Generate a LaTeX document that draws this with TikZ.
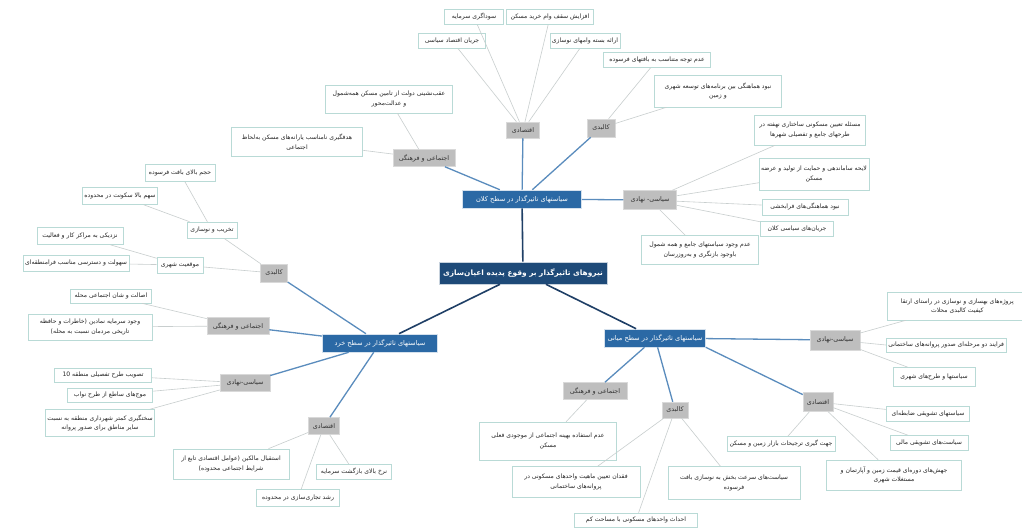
\documentclass[tikz,border=0pt]{standalone}
\usepackage{fontspec}
\TeXXeTstate=1
\newfontfamily\fafont[Script=Arabic]{DejaVu Sans}
\newcommand\fa[1]{\beginR #1\endR}
\definecolor{leafborder}{HTML}{B9DAD6}
\definecolor{leafline}{HTML}{C8CECE}
\definecolor{catfill}{HTML}{BEBEBE}
\definecolor{cattext}{HTML}{333333}
\definecolor{lvlfill}{HTML}{2B69A5}
\definecolor{rootfill}{HTML}{1E4A78}
\definecolor{lvlline}{HTML}{5A8CBD}
\definecolor{rootline}{HTML}{1F3F66}
\tikzset{
  leaf/.style={draw=leafborder, line width=0.6pt, fill=white, text=black!85,
    font=\fafont\fontsize{6.1}{9.5}\selectfont, align=center, inner xsep=2pt, inner ysep=1.5pt},
  cat/.style={draw=white!85!black, line width=0.5pt, fill=catfill, text=cattext,
    font=\fafont\fontsize{6.4}{8}\selectfont, inner xsep=3pt, inner ysep=2pt},
  lvl/.style={draw=white!80!lvlfill, line width=0.6pt, fill=lvlfill, text=white,
    font=\fafont\fontsize{6.6}{8}\selectfont, inner xsep=3pt, inner ysep=2pt},
  rootbox/.style={draw=white!75!rootfill, line width=0.6pt, fill=rootfill, text=white,
    font=\fafont\bfseries\fontsize{7.4}{9}\selectfont, inner xsep=4pt, inner ysep=3pt},
  lline/.style={draw=leafline, line width=0.6pt},
  bline/.style={draw=lvlline, line width=1.3pt},
  rline/.style={draw=rootline, line width=1.6pt}
}
\begin{document}
\begin{tikzpicture}[x=1pt,y=-1pt]
\useasboundingbox (0,0) rectangle (1022,531);
\clip (0,0) rectangle (1022,531);
\fill[white] (0,0) rectangle (1022,531);

% root and level 1
\node[rootbox, minimum width=160, minimum height=22] (R) at (523,273) {\fa{نیروهای تاثیرگذار بر وقوع پدیده اعیان‌سازی}};
\node[lvl, minimum width=119, minimum height=18] (M) at (522,199) {\fa{سیاستهای تاثیرگذار در سطح کلان}};
\node[lvl, minimum width=115, minimum height=18] (S) at (380,343) {\fa{سیاستهای تاثیرگذار در سطح خرد}};
\node[lvl, minimum width=101, minimum height=18] (D) at (655,338) {\fa{سیاستهای تاثیرگذار در سطح میانی}};

% macro categories
\node[cat, minimum width=33, minimum height=16] (Me) at (523,130) {\fa{اقتصادی}};
\node[cat, minimum width=28, minimum height=18] (Mk) at (601,128) {\fa{کالبدی}};
\node[cat, minimum width=62, minimum height=17] (Ms) at (424,158) {\fa{اجتماعی و فرهنگی}};
\node[cat, minimum width=53, minimum height=19] (Mp) at (650,200) {\fa{سیاسی- نهادی}};

% macro leaves
\node[leaf, minimum width=59, minimum height=15] (me1) at (474,17) {\fa{سوداگری سرمایه}};
\node[leaf, minimum width=87, minimum height=15] (me2) at (550,17) {\fa{افزایش سقف وام خرید مسکن}};
\node[leaf, minimum width=67, minimum height=15] (me3) at (452,41) {\fa{جریان اقتصاد سیاسی}};
\node[leaf, minimum width=69, minimum height=15] (me4) at (585,41) {\fa{ارائه بسته وامهای نوسازی}};
\node[leaf, minimum width=107, minimum height=15] (mk1) at (657,60) {\fa{عدم توجه متناسب به بافتهای فرسوده}};
\node[leaf, minimum width=127, minimum height=32] (mk2) at (718,91) {\fa{نبود هماهنگی بین برنامه‌های توسعه شهری}\\\fa{و زمین}};
\node[leaf, minimum width=127, minimum height=28] (ms1) at (389,99) {\fa{عقب‌نشینی دولت از تامین مسکن همه‌شمول}\\\fa{و عدالت‌محور}};
\node[leaf, minimum width=131, minimum height=29] (ms2) at (297,142) {\fa{هدفگیری نامناسب یارانه‌های مسکن به‌لحاظ}\\\fa{اجتماعی}};
\node[leaf, minimum width=111, minimum height=30] (mp1) at (810,130) {\fa{مسئله تعیین مسکونی ساختاری نهفته در}\\\fa{طرحهای جامع و تفصیلی شهرها}};
\node[leaf, minimum width=104, minimum height=32] (mp2) at (814,174) {\fa{لایحه ساماندهی و حمایت از تولید و عرضه}\\\fa{مسکن}};
\node[leaf, minimum width=86, minimum height=16] (mp3) at (805,207) {\fa{نبود هماهنگی‌های فرابخشی}};
\node[leaf, minimum width=73, minimum height=15] (mp4) at (797,229) {\fa{جریان‌های سیاسی کلان}};
\node[leaf, minimum width=117, minimum height=29] (mp5) at (700,250) {\fa{عدم وجود سیاستهای جامع و همه شمول}\\\fa{باوجود بازنگری و به‌روزرسان}};

% micro categories
\node[cat, minimum width=27, minimum height=18] (Sk) at (274,273) {\fa{کالبدی}};
\node[cat, minimum width=62, minimum height=17] (Ss) at (238,326) {\fa{اجتماعی و فرهنگی}};
\node[cat, minimum width=50, minimum height=17] (Sp) at (245,383) {\fa{سیاسی-نهادی}};
\node[cat, minimum width=31, minimum height=17] (Se) at (324,426) {\fa{اقتصادی}};

% micro leaves
\node[leaf, minimum width=50, minimum height=16] (sk1) at (212,230) {\fa{تخریب و نوسازی}};
\node[leaf, minimum width=46, minimum height=16] (sk2) at (180,265) {\fa{موقعیت شهری}};
\node[leaf, minimum width=70, minimum height=17] (sk11) at (180,173) {\fa{حجم بالای بافت فرسوده}};
\node[leaf, minimum width=74, minimum height=17] (sk12) at (120,196) {\fa{سهم بالا سکونت در محدوده}};
\node[leaf, minimum width=86, minimum height=17] (sk21) at (80,236) {\fa{نزدیکی به مراکز کار و فعالیت}};
\node[leaf, minimum width=90, minimum height=16] (sk22) at (76,263) {\fa{سهولت و دسترسی مناسب فرامنطقه‌ای}};
\node[leaf, minimum width=81, minimum height=14] (ss1) at (111,296) {\fa{اصالت و شان اجتماعی محله}};
\node[leaf, minimum width=124, minimum height=26] (ss2) at (90,327) {\fa{وجود سرمایه نمادین (خاطرات و حافظه}\\\fa{تاریخی مردمان نسبت به محله)}};
\node[leaf, minimum width=97, minimum height=14] (sp1) at (103,375) {\fa{تصویب طرح تفصیلی منطقه \beginL 10\endL{}}};
\node[leaf, minimum width=85, minimum height=14] (sp2) at (110,395) {\fa{موج‌های ساطع از طرح نواب}};
\node[leaf, minimum width=105, minimum height=27] (sp3) at (100,423) {\fa{سختگیری کمتر شهرداری منطقه به نسبت}\\\fa{سایر مناطق برای صدور پروانه}};
\node[leaf, minimum width=116, minimum height=30] (se1) at (231,464) {\fa{استقبال مالکین (عوامل اقتصادی تابع از}\\\fa{شرایط اجتماعی محدوده)}};
\node[leaf, minimum width=75, minimum height=15] (se2) at (354,472) {\fa{نرخ بالای بازگشت سرمایه}};
\node[leaf, minimum width=83, minimum height=17] (se3) at (298,498) {\fa{رشد تجاری‌سازی در محدوده}};

% middle categories
\node[cat, minimum width=50, minimum height=20] (Dp) at (835,340) {\fa{سیاسی-نهادی}};
\node[cat, minimum width=30, minimum height=19] (De) at (818,402) {\fa{اقتصادی}};
\node[cat, minimum width=26, minimum height=16] (Dk) at (675,410) {\fa{کالبدی}};
\node[cat, minimum width=64, minimum height=17] (Ds) at (595,391) {\fa{اجتماعی و فرهنگی}};

% middle leaves
\node[leaf, anchor=west, minimum width=140, minimum height=28] (dp1) at (887,306) {\fa{پروژه‌های بهسازی و نوسازی در راستای ارتقا}\\\fa{کیفیت کالبدی محلات}};
\node[leaf, anchor=west, minimum height=14] (dp2) at (886,345) {\fa{فرایند دو مرحله‌ای صدور پروانه‌های ساختمانی}};
\node[leaf, minimum width=82, minimum height=19] (dp3) at (934,377) {\fa{سیاستها و طرح‌های شهری}};
\node[leaf, minimum width=83, minimum height=15] (de1) at (928,414) {\fa{سیاستهای تشویقی ضابطه‌ای}};
\node[leaf, minimum width=78, minimum height=15] (de2) at (929,443) {\fa{سیاست‌های تشویقی مالی}};
\node[leaf, minimum width=135, minimum height=30] (de3) at (894,475) {\fa{جهش‌های دوره‌ای قیمت زمین و آپارتمان و}\\\fa{مستغلات شهری}};
\node[leaf, minimum width=108, minimum height=15] (de4) at (781,444) {\fa{جهت گیری ترجیحات بازار زمین و مسکن}};
\node[leaf, minimum width=132, minimum height=33] (dk1) at (734,483) {\fa{سیاست‌های سرعت بخش به نوسازی بافت}\\\fa{فرسوده}};
\node[leaf, minimum width=128, minimum height=31] (dk2) at (576,482) {\fa{فقدان تعیین ماهیت واحدهای مسکونی در}\\\fa{پروانه‌های ساختمانی}};
\node[leaf, minimum width=123, minimum height=14] (dk3) at (636,520) {\fa{احداث واحدهای مسکونی با مساحت کم}};
\node[leaf, minimum width=137, minimum height=38] (ds1) at (548,441) {\fa{عدم استفاده بهینه اجتماعی از موجودی فعلی}\\\fa{مسکن}};

% connectors: root
\draw[rline] (R) -- (M);
\draw[rline] (R) -- (S);
\draw[rline] (R) -- (D);
% level 1 to categories
\foreach \c in {Me,Mk,Ms,Mp} \draw[bline] (M) -- (\c);
\foreach \c in {Sk,Ss,Sp,Se} \draw[bline] (S) -- (\c);
\foreach \c in {Dp,Dk,Ds} \draw[bline] (D) -- (\c);
\draw[bline] (D.south east) -- (De);
% leaves
\foreach \a/\b in {Me/me1,Me/me2,Me/me3,Me/me4,Mk/mk1,Mk/mk2,Ms/ms1,Ms/ms2,
  Mp/mp1,Mp/mp2,Mp/mp3,Mp/mp4,Mp/mp5,
  Sk/sk1,Sk/sk2,sk1/sk11,sk1/sk12,sk2/sk21,sk2/sk22,Ss/ss1,Ss/ss2,
  Sp/sp1,Sp/sp2,Sp/sp3,Se/se1,Se/se2,Se/se3,
  Dp/dp1,De/de1,De/de2,De/de3,De/de4,Dk/dk1,Dk/dk2,Dk/dk3,Ds/ds1}
  \draw[lline] (\a) -- (\b);
\draw[lline] (Dp) -- (dp2.west);
\draw[lline] (Dp) -- (dp3);
\end{tikzpicture}
\end{document}
